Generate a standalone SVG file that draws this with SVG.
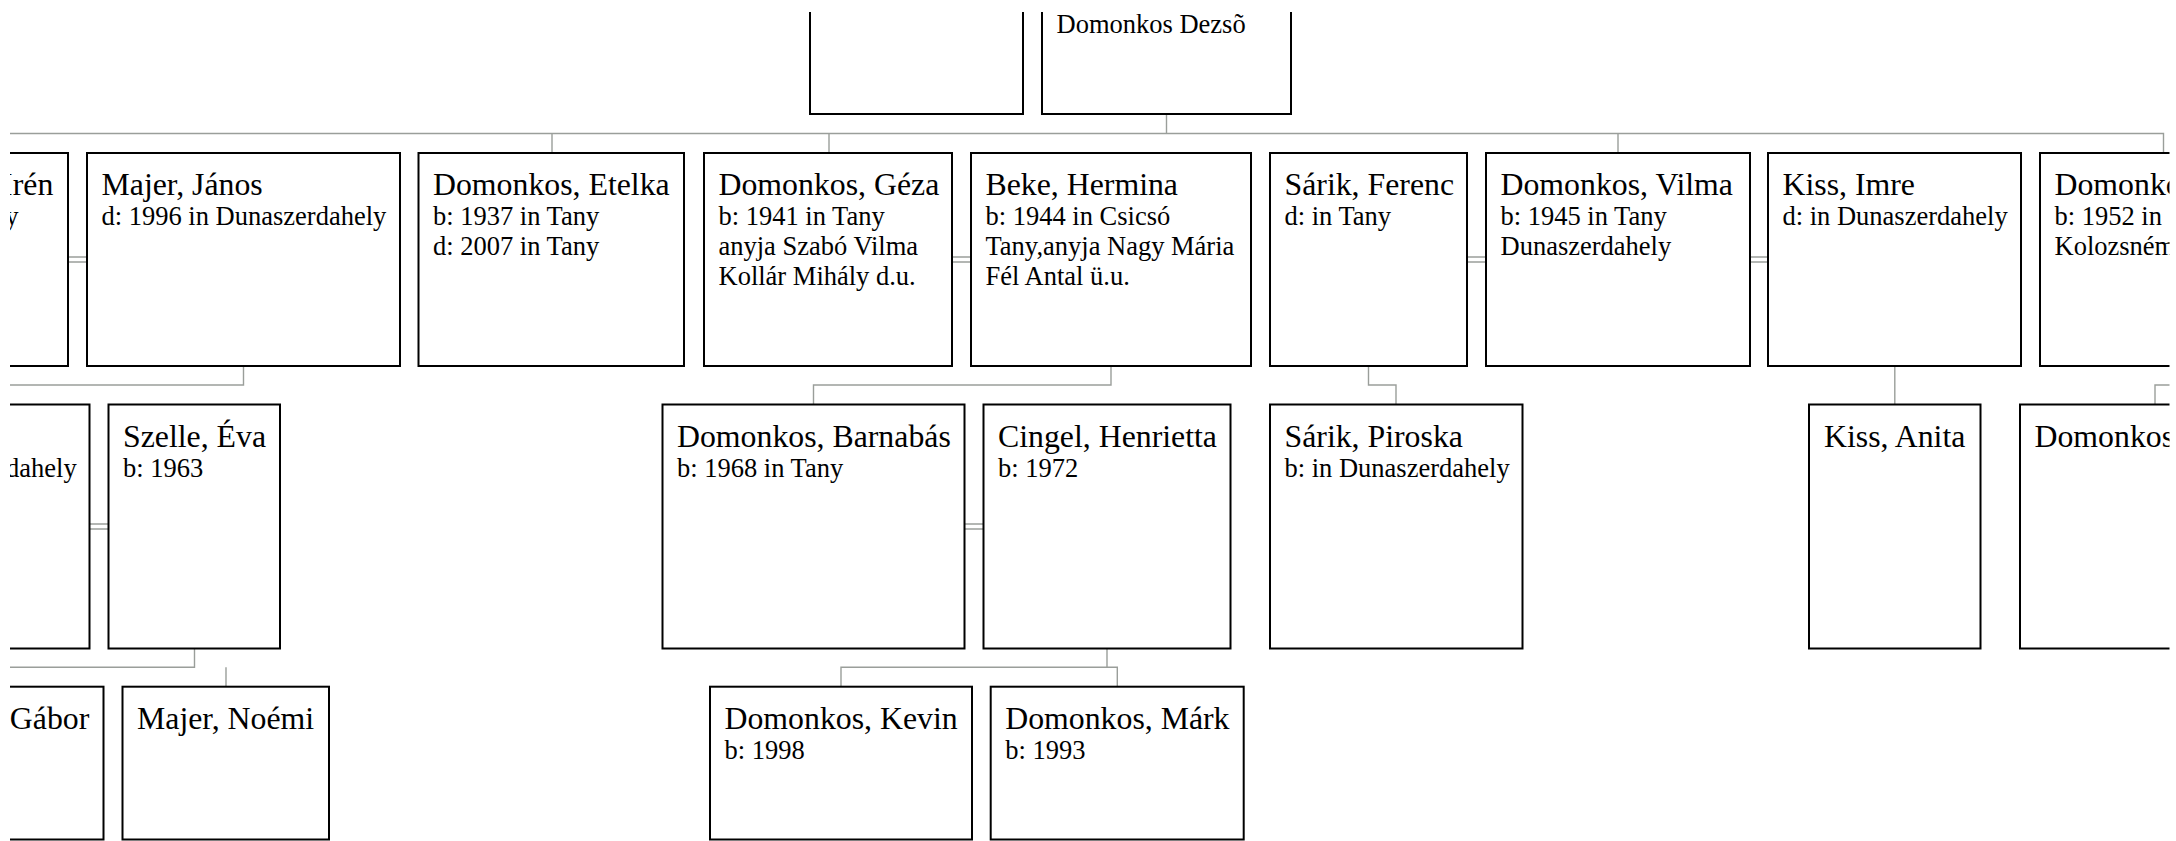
<svg xmlns="http://www.w3.org/2000/svg" width="2176" height="841" viewBox="0 0 2176 841">
<defs>
<clipPath id="view"><rect x="10" y="12" width="2159.5" height="829"/></clipPath>
<style>
.box{fill:#fff;stroke:#000;stroke-width:2}
text{font-family:"Liberation Serif","Times New Roman",serif;fill:#000}
.n{font-size:31.8px}
.d{font-size:26.5px}
.c{fill:none;stroke:#9a9e9a;stroke-width:1.4}
</style>
</defs>
<rect width="2176" height="841" fill="#fff"/>
<g clip-path="url(#view)">
<g id="connectors" class="c">
<path d="M1166.5 114V133.5M-10 133.5H2163.5V153M552 133.5V153M829 133.5V153M1618 133.5V153"/>
<path d="M243.5 366V385H-10M1111 366V385H813.5V404.5M1368.5 366V385H1396V404.5M1894.8 366V404.5M2155 404.5V385H2300"/>
<path d="M194.5 648.5V667.3H-10M226 667.3V686.7M1107 648.5V667.3M841 686.7V667.3H1117.3V686.7"/>
<path d="M68 257H87M68 262H87M952 257H971M952 262H971M1467 257H1486M1467 262H1486M1750 257H1768M1750 262H1768"/>
<path d="M89.5 524H108.5M89.5 529H108.5M964.5 524H983.5M964.5 529H983.5"/>
</g>
<g id="parent-a"><rect class="box" x="810" y="-100" width="213" height="214"/></g>
<g id="parent-b"><rect class="box" x="1042" y="-100" width="249" height="214"/>
<text class="d" x="1056.5" y="33.3">Domonkos Dezsõ</text></g>

<g id="iren"><rect class="box" x="-150" y="153" width="218" height="213"/>
<text class="n" x="53.3" y="194.5" text-anchor="end">Irén</text>
<text class="d" x="18.5" y="224.5" text-anchor="end">y</text></g>
<g id="majer-janos"><rect class="box" x="87" y="153" width="313" height="213"/>
<text class="n" x="101.5" y="194.5">Majer, János</text>
<text class="d" x="101.5" y="224.5">d: 1996 in Dunaszerdahely</text></g>
<g id="domonkos-etelka"><rect class="box" x="418.5" y="153" width="265.5" height="213"/>
<text class="n" x="433" y="194.5">Domonkos, Etelka</text>
<text class="d" x="433" y="224.5">b: 1937 in Tany</text>
<text class="d" x="433" y="254.5">d: 2007 in Tany</text></g>
<g id="domonkos-geza"><rect class="box" x="704" y="153" width="248" height="213"/>
<text class="n" x="718.5" y="194.5">Domonkos, Géza</text>
<text class="d" x="718.5" y="224.5">b: 1941 in Tany</text>
<text class="d" x="718.5" y="254.5">anyja Szabó Vilma</text>
<text class="d" x="718.5" y="284.5">Kollár Mihály d.u.</text></g>
<g id="beke-hermina"><rect class="box" x="971" y="153" width="280" height="213"/>
<text class="n" x="985.5" y="194.5">Beke, Hermina</text>
<text class="d" x="985.5" y="224.5">b: 1944 in Csicsó</text>
<text class="d" x="985.5" y="254.5">Tany,anyja Nagy Mária</text>
<text class="d" x="985.5" y="284.5">Fél Antal ü.u.</text></g>
<g id="sarik-ferenc"><rect class="box" x="1270" y="153" width="197" height="213"/>
<text class="n" x="1284.5" y="194.5">Sárik, Ferenc</text>
<text class="d" x="1284.5" y="224.5">d: in Tany</text></g>
<g id="domonkos-vilma"><rect class="box" x="1486" y="153" width="264" height="213"/>
<text class="n" x="1500.5" y="194.5">Domonkos, Vilma</text>
<text class="d" x="1500.5" y="224.5">b: 1945 in Tany</text>
<text class="d" x="1500.5" y="254.5">Dunaszerdahely</text></g>
<g id="kiss-imre"><rect class="box" x="1768" y="153" width="253" height="213"/>
<text class="n" x="1782.5" y="194.5">Kiss, Imre</text>
<text class="d" x="1782.5" y="224.5">d: in Dunaszerdahely</text></g>
<g id="domonkos-right"><rect class="box" x="2040" y="153" width="260" height="213"/>
<text class="n" x="2054.5" y="194.5">Domonkos</text>
<text class="d" x="2054.5" y="224.5">b: 1952 in</text>
<text class="d" x="2054.5" y="254.5">Kolozsnéma</text></g>

<g id="left-row3"><rect class="box" x="-200" y="404.5" width="289.5" height="244"/>
<text class="d" x="76.7" y="477" text-anchor="end">dahely</text></g>
<g id="szelle-eva"><rect class="box" x="108.5" y="404.5" width="171.5" height="244"/>
<text class="n" x="123" y="447">Szelle, Éva</text>
<text class="d" x="123" y="477">b: 1963</text></g>
<g id="domonkos-barnabas"><rect class="box" x="662.5" y="404.5" width="302" height="244"/>
<text class="n" x="677" y="447">Domonkos, Barnabás</text>
<text class="d" x="677" y="477">b: 1968 in Tany</text></g>
<g id="cingel-henrietta"><rect class="box" x="983.5" y="404.5" width="247" height="244"/>
<text class="n" x="998" y="447">Cingel, Henrietta</text>
<text class="d" x="998" y="477">b: 1972</text></g>
<g id="sarik-piroska"><rect class="box" x="1270" y="404.5" width="252.5" height="244"/>
<text class="n" x="1284.5" y="447">Sárik, Piroska</text>
<text class="d" x="1284.5" y="477">b: in Dunaszerdahely</text></g>
<g id="kiss-anita"><rect class="box" x="1809" y="404.5" width="171.5" height="244"/>
<text class="n" x="1824" y="447">Kiss, Anita</text></g>
<g id="domonkos-right3"><rect class="box" x="2020" y="404.5" width="270" height="244"/>
<text class="n" x="2034.5" y="447">Domonkos</text></g>

<g id="gabor"><rect class="box" x="-150" y="686.7" width="253.5" height="152.8"/>
<text class="n" x="89.3" y="728.5" text-anchor="end">Gábor</text></g>
<g id="majer-noemi"><rect class="box" x="122.5" y="686.7" width="206.5" height="152.8"/>
<text class="n" x="137" y="728.5">Majer, Noémi</text></g>
<g id="domonkos-kevin"><rect class="box" x="710" y="686.7" width="262" height="152.8"/>
<text class="n" x="724.5" y="728.5">Domonkos, Kevin</text>
<text class="d" x="724.5" y="759">b: 1998</text></g>
<g id="domonkos-mark"><rect class="box" x="990.7" y="686.7" width="253" height="152.8"/>
<text class="n" x="1005.2" y="728.5">Domonkos, Márk</text>
<text class="d" x="1005.2" y="759">b: 1993</text></g>
</g>
</svg>
